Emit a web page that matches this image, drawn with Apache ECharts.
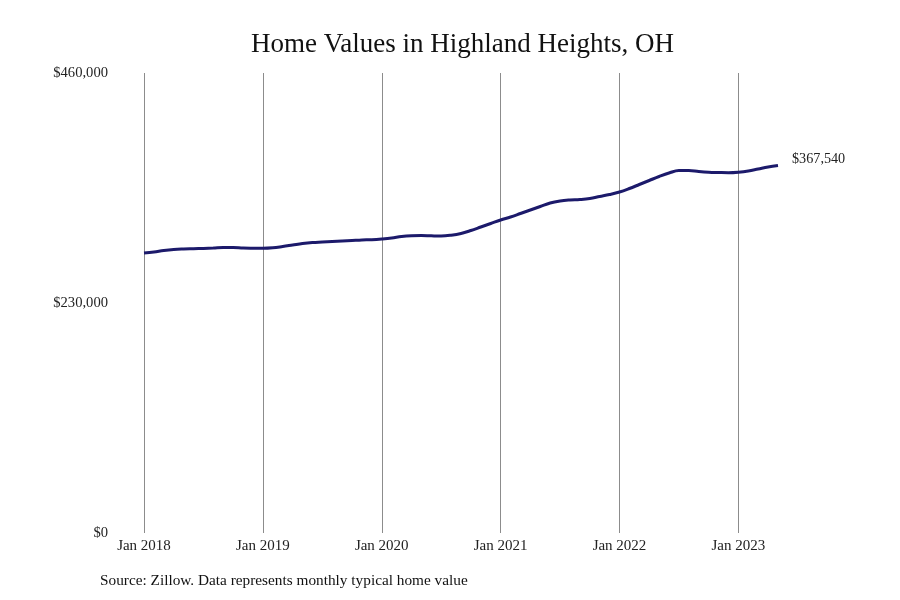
<!DOCTYPE html>
<html>
<head>
<meta charset="utf-8">
<script src="https://cdn.jsdelivr.net/npm/echarts@6/dist/echarts.min.js"></script>
<style>html,body{margin:0;padding:0;background:#fff}#c{width:900px;height:600px}</style>
</head>
<body>
<div id="c"></div>
<script>
const months = ['Jan','Feb','Mar','Apr','May','Jun','Jul','Aug','Sep','Oct','Nov','Dec'];
const years = [2018, 2019, 2020, 2021, 2022, 2023];
const categories = [];
years.forEach(y => months.forEach((m, i) => { if (y < 2023 || i < 5) categories.push(m + ' ' + y); }));

const values2018 = [280000, 281000, 282500, 283500, 284000, 284300, 284600, 285000, 285500, 285500, 285000, 284800];
const values2019 = [284700, 285200, 286500, 288000, 289500, 290500, 291000, 291500, 292000, 292500, 293000, 293300];
const values2020 = [294000, 295000, 296500, 297300, 297500, 297200, 297000, 297800, 299500, 302500, 306000, 309500];
const values2021 = [313000, 316000, 319500, 323000, 326500, 330000, 332000, 333000, 333500, 334500, 336500, 338500];
const values2022 = [341000, 344500, 348500, 352500, 356500, 360000, 362500, 362500, 361500, 360800, 360500, 360300];
const values2023 = [360800, 362000, 364000, 366000, 367540];
const values = [].concat(values2018, values2019, values2020, values2021, values2022, values2023);

const yTicks = [0, 230000, 460000];
const titleText = 'Home Values in Highland Heights, OH';
const sourceText = 'Source: Zillow. Data represents monthly typical home value';

const font = '"Liberation Serif", "DejaVu Serif", serif';
const fmt = v => '$' + v.toLocaleString('en-US');

const chart = echarts.init(document.getElementById('c'));
chart.setOption({
  animation: false,
  backgroundColor: '#ffffff',
  title: {
    text: titleText, left: 246, top: 26,
    textStyle: { fontFamily: font, fontSize: 27, fontWeight: 'normal', color: '#111' }
  },
  graphic: [{
    type: 'text', left: 100, top: 573,
    style: { text: sourceText, fontFamily: font, fontSize: 15.3, fill: '#111' }
  }],
  grid: { left: 144, right: 122, top: 73, bottom: 67 },
  xAxis: {
    type: 'category', data: categories, boundaryGap: false,
    axisLine: { show: false }, axisTick: { show: false },
    axisLabel: {
      interval: (i) => i % 12 === 0, margin: 6,
      fontFamily: font, fontSize: 15, color: '#222'
    },
    splitLine: {
      show: true, interval: (i) => i % 12 === 0,
      lineStyle: { color: '#8c8c8c', width: 1 }
    }
  },
  yAxis: {
    type: 'value', min: yTicks[0], max: yTicks[2], interval: yTicks[1],
    axisLine: { show: false }, axisTick: { show: false }, splitLine: { show: false },
    axisLabel: { formatter: fmt, margin: 36, fontFamily: font, fontSize: 14.6, color: '#222' }
  },
  series: [{
    type: 'line', data: values, smooth: 0.4, showSymbol: false,
    lineStyle: { color: '#1c1a6b', width: 3 },
    endLabel: {
      show: true, formatter: p => fmt(p.value), distance: 14, offset: [0, -6],
      fontFamily: font, fontSize: 14.2, color: '#222'
    }
  }]
});
</script>
</body>
</html>
